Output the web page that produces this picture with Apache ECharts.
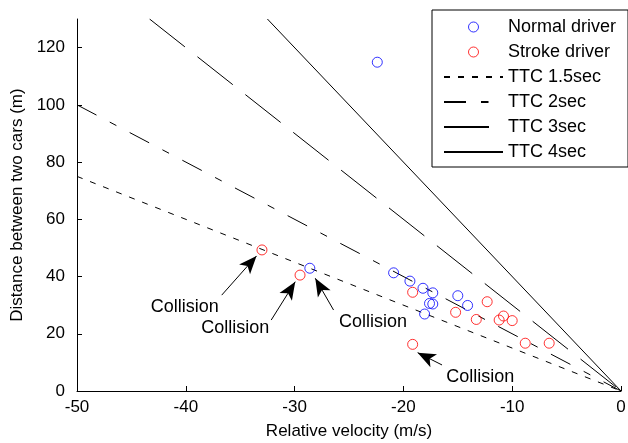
<!DOCTYPE html>
<html><head><meta charset="utf-8">
<script src="https://cdn.jsdelivr.net/npm/echarts@6/dist/echarts.min.js"></script>
<style>html,body{margin:0;padding:0;background:#fff}#c{width:628px;height:443px}</style>
</head><body><div id="c"></div>
<script>
const xTicks = [-50, -40, -30, -20, -10, 0];
const yTicks = [0, 20, 40, 60, 80, 100, 120];
const normalDriver = [[-22.4,114.9],[-28.6,42.9],[-20.9,41.3],[-19.4,38.4],[-18.2,35.9],[-17.3,34.3],[-17.6,30.6],[-17.3,30.4],[-18.05,26.9],[-15.0,33.3],[-14.1,29.9]];
const strokeDriver = [[-33.0,49.3],[-29.5,40.5],[-19.15,34.5],[-19.15,16.3],[-15.2,27.5],[-13.3,25.0],[-12.3,31.2],[-11.2,24.8],[-10.8,26.2],[-10.0,24.6],[-8.8,16.7],[-6.6,16.7]];
const ttc15 = [[-50,75],[0,0]];
const ttc2 = [[-50,100],[0,0]];
const ttc3 = [[-43.33,130],[0,0]];
const ttc4 = [[-32.5,130],[0,0]];
const labelPos = [[-40.1,29.3],[-35.46,22.0],[-22.8,24.1],[-12.93,4.9]];
const labelText = ['Collision','Collision','Collision','Collision'];
const arrowTail = [[-36.7,33.5],[-32.15,24.8],[-26.42,28.3],[-16.45,9.1]];
const arrowTip = [[-33.5,47.2],[-29.94,38.2],[-28.1,39.4],[-18.69,13.4]];

const FONT = 'Liberation Sans, Arial, sans-serif';
const chart = echarts.init(document.getElementById('c'), null, {renderer: 'canvas'});

function ttcSeries(name, data, type) {
  return {
    name, type: 'line', data, symbol: 'none', silent: true, clip: true,
    itemStyle: {color: '#000'},
    lineStyle: {color: '#000', width: 1, type}
  };
}
const circleLegend = (name, color) => ({
  name, icon: 'circle',
  itemStyle: {color: 'rgba(0,0,0,0)', borderColor: color, borderWidth: 1}
});
const lineLegend = name => ({
  name,
  itemStyle: {color: 'rgba(0,0,0,0)', borderColor: 'rgba(0,0,0,0)', borderWidth: 0, opacity: 0}
});

const option = {
  animation: false,
  backgroundColor: '#fff',
  textStyle: {fontFamily: FONT, color: '#000'},
  grid: {left: 77, right: 7, top: 19, bottom: 52, containLabel: false, outerBoundsMode: 'none'},
  legend: {
    orient: 'vertical', left: 432, top: 10,
    padding: [7, 12, 5, 11], itemGap: 5, itemWidth: 59, itemHeight: 10,
    borderColor: '#000', borderWidth: 1, backgroundColor: '#fff',
    textStyle: {fontFamily: FONT, fontSize: 18, color: '#000', lineHeight: 20},
    selectedMode: false,
    data: [
      circleLegend('Normal driver', '#0000ff'),
      circleLegend('Stroke driver', '#ff0000'),
      lineLegend('TTC 1.5sec'), lineLegend('TTC 2sec'), lineLegend('TTC 3sec'), lineLegend('TTC 4sec')
    ]
  },
  xAxis: {
    type: 'value', min: -50, max: 0, interval: 10,
    name: 'Relative velocity (m/s)', nameLocation: 'middle', nameGap: 32,
    nameTextStyle: {fontFamily: FONT, fontSize: 17, color: '#000'},
    axisLine: {show: true, onZero: false, lineStyle: {color: '#000', width: 1}},
    axisTick: {show: true, inside: true, length: 5, lineStyle: {color: '#000'}, customValues: xTicks},
    axisLabel: {fontFamily: FONT, fontSize: 17, color: '#000', margin: 8, customValues: xTicks},
    splitLine: {show: false}
  },
  yAxis: {
    type: 'value', min: 0, max: 130, interval: 20,
    name: 'Distance between two cars (m)', nameLocation: 'middle', nameGap: 40,
    nameTextStyle: {fontFamily: FONT, fontSize: 17, color: '#000'},
    axisLine: {show: true, onZero: false, lineStyle: {color: '#000', width: 1}},
    axisTick: {show: true, inside: true, length: 5, lineStyle: {color: '#000'}, customValues: yTicks},
    axisLabel: {fontFamily: FONT, fontSize: 17, color: '#000', margin: 12, customValues: yTicks},
    splitLine: {show: false}
  },
  series: [
    {
      name: 'Normal driver', type: 'scatter', data: normalDriver, symbol: 'circle', symbolSize: 10,
      itemStyle: {color: 'rgba(0,0,0,0)', borderColor: '#0000ff', borderWidth: 1}, z: 3
    },
    {
      name: 'Stroke driver', type: 'scatter', data: strokeDriver, symbol: 'circle', symbolSize: 10,
      itemStyle: {color: 'rgba(0,0,0,0)', borderColor: '#ff0000', borderWidth: 1}, z: 3
    },
    ttcSeries('TTC 1.5sec', ttc15, [6, 8]),
    ttcSeries('TTC 2sec', ttc2, [22, 15, 7.5, 15]),
    ttcSeries('TTC 3sec', ttc3, [45, 16]),
    ttcSeries('TTC 4sec', ttc4, 'solid'),
    {
      name: 'annotations', type: 'scatter', symbolSize: 1, silent: true,
      itemStyle: {color: 'rgba(0,0,0,0)'},
      data: labelPos.map((p, i) => ({value: p, label: {formatter: labelText[i]}})),
      label: {show: true, position: 'inside', fontFamily: FONT, fontSize: 18, color: '#000',
        textBorderWidth: 0, textBorderColor: 'transparent', opacity: 1},
      markLine: {
        silent: true, animation: false,
        symbol: ['none', 'arrow'], symbolSize: [11, 18],
        label: {show: false},
        lineStyle: {color: '#000', width: 1, type: 'solid'},
        itemStyle: {color: '#000'},
        data: arrowTail.map((t, i) => [{coord: t}, {coord: arrowTip[i]}])
      }
    }
  ]
};
chart.setOption(option);
</script></body></html>
